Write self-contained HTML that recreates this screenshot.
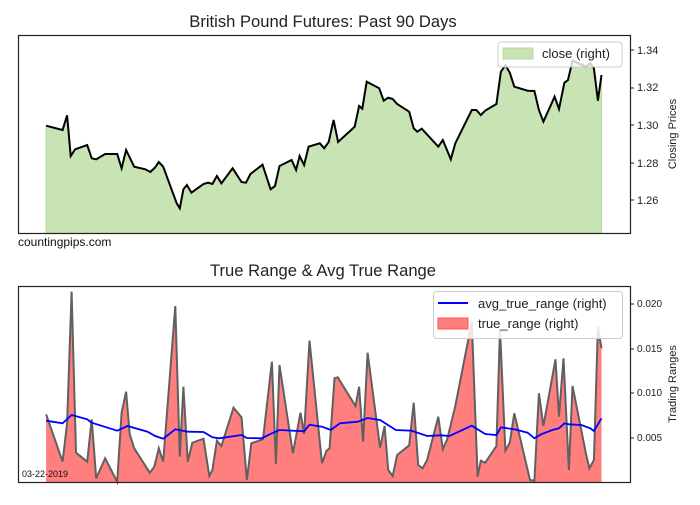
<!DOCTYPE html>
<html><head><meta charset="utf-8"><style>
body{margin:0;background:#fff;}
svg text{font-family:"Liberation Sans","DejaVu Sans",sans-serif;}
</style></head><body>
<svg id="s" width="700" height="500" xmlns="http://www.w3.org/2000/svg">
<rect width="700" height="500" fill="#fff"/>
<text x="323" y="27" font-size="16.6" text-anchor="middle" fill="#222">British Pound Futures: Past 90 Days</text>
<text x="323" y="276" font-size="16.6" text-anchor="middle" fill="#222">True Range &amp; Avg True Range</text>
<g id="top"></g>
<g id="bot"></g>
<rect x="18.5" y="35.5" width="612" height="198" fill="none" stroke="#222" stroke-width="1.2"/>
<rect x="18.5" y="286.5" width="612" height="196" fill="none" stroke="#222" stroke-width="1.2"/>
<g font-size="11" fill="#222">
<text x="637" y="54">1.34</text><text x="637" y="91">1.32</text><text x="637" y="129">1.30</text>
<text x="637" y="167">1.28</text><text x="637" y="204">1.26</text>
</g>
<g stroke="#222"><line x1="630" x2="634" y1="50" y2="50"/><line x1="630" x2="634" y1="88" y2="88"/><line x1="630" x2="634" y1="125" y2="125"/><line x1="630" x2="634" y1="163" y2="163"/><line x1="630" x2="634" y1="200" y2="200"/>
<line x1="630" x2="634" y1="304" y2="304"/><line x1="630" x2="634" y1="349" y2="349"/><line x1="630" x2="634" y1="393" y2="393"/><line x1="630" x2="634" y1="438" y2="438"/></g>
<g font-size="10" fill="#222">
<text x="637" y="307">0.020</text><text x="637" y="352">0.015</text><text x="637" y="396">0.010</text><text x="637" y="441">0.005</text>
</g>
<text transform="translate(676,134) rotate(-90)" font-size="11" text-anchor="middle" fill="#222">Closing Prices</text>
<text transform="translate(676,384) rotate(-90)" font-size="11" text-anchor="middle" fill="#222">Trading Ranges</text>
<text x="18" y="246" font-size="12" fill="#111">countingpips.com</text>
<text x="22" y="477" font-size="9" fill="#111">03-22-2019</text>
<rect x="498" y="42" width="124" height="25" rx="3" fill="#fff" fill-opacity="0.8" stroke="#ccc"/>
<rect x="503" y="48" width="30" height="11" fill="#c9e4b4" stroke="#b5d99c"/>
<text x="542" y="58" font-size="13" fill="#222">close (right)</text>
<rect x="433.5" y="291.5" width="189" height="47" rx="3" fill="#fff" fill-opacity="0.85" stroke="#ccc"/>
<line x1="438" x2="468" y1="303" y2="303" stroke="#0000ff" stroke-width="2"/>
<text x="478" y="308" font-size="13" fill="#222">avg_true_range (right)</text>
<rect x="438" y="318" width="30" height="11" fill="#ff7f7f" stroke="#ff5555"/>
<text x="478" y="328" font-size="13" fill="#222">true_range (right)</text>
</svg>
<script>
var k=2.236;
function conv(a,off){var r=[];for(var i=0;i<a.length;i+=2)r.push([(a[i]/k).toFixed(1),(off+a[i+1]/3).toFixed(1)]);return r;}
var close=[103,287,140,300,150,256,158,378,168,358,195,345,205,385,215,388,235,372,262,372,272,415,282,360,300,410,325,418,336,426,347,412,355,396,365,410,395,520,402,535,410,478,418,465,428,488,455,462,465,458,475,462,485,438,495,460,520,415,540,456,550,458,560,432,587,404,605,478,615,468,625,408,652,390,662,420,670,378,680,405,690,350,715,340,725,355,735,336,746,270,756,336,793,290,803,228,810,236,820,155,848,175,858,212,868,203,878,207,888,222,915,245,925,295,933,305,943,296,980,350,990,330,1008,388,1018,340,1055,240,1065,240,1075,255,1085,242,1110,222,1120,125,1130,106,1140,128,1150,170,1180,182,1195,183,1205,240,1215,275,1240,200,1250,237,1262,158,1270,150,1280,92,1310,110,1320,100,1328,115,1337,212,1345,135];
var tr=[103,403,140,545,150,430,160,35,170,518,195,545,205,418,215,595,235,535,262,605,272,398,282,335,290,462,300,505,335,578,345,560,355,505,365,545,392,78,402,530,410,320,420,545,430,488,455,476,468,588,475,570,485,482,495,498,522,383,540,412,552,600,562,490,588,478,608,245,617,552,625,255,655,520,672,398,680,462,692,182,720,550,730,512,737,505,748,295,755,292,795,378,803,320,812,485,822,218,850,503,860,438,868,570,878,588,888,525,915,496,925,368,935,555,945,565,955,540,980,410,990,508,1000,478,1018,378,1055,125,1068,590,1075,542,1085,548,1110,498,1118,148,1130,512,1140,488,1150,400,1185,600,1195,602,1205,340,1215,438,1242,238,1250,410,1260,235,1272,570,1280,318,1310,520,1318,565,1328,540,1337,140,1345,205];
var atr=[103,422,140,430,160,405,195,418,205,428,262,452,285,438,330,455,347,468,365,476,392,448,420,455,455,456,475,472,490,475,540,465,552,474,585,475,608,460,625,450,680,454,692,434,720,440,740,450,760,430,800,425,822,414,850,420,885,450,920,452,955,468,985,466,1005,468,1055,437,1085,462,1110,465,1120,442,1150,448,1180,458,1195,475,1210,463,1235,450,1250,445,1262,430,1272,433,1300,435,1320,445,1328,453,1345,415];
function pts(p){return p.map(function(q){return q.join(',')}).join(' ');}
var c=conv(close,30),t=conv(tr,280),a=conv(atr,280);
var ns='http://www.w3.org/2000/svg';
function add(g,tag,at){var e=document.createElementNS(ns,tag);for(var x in at)e.setAttribute(x,at[x]);document.getElementById(g).appendChild(e);}
add('top','polygon',{points:c[0][0]+',233 '+pts(c)+' '+c[c.length-1][0]+',233',fill:'#c9e4b4',stroke:'#b5d99c'});
add('top','polyline',{points:pts(c),fill:'none',stroke:'#000','stroke-width':2});
add('bot','polygon',{points:t[0][0]+',482 '+pts(t)+' '+t[t.length-1][0]+',482',fill:'#ff7f7f'});
add('bot','polyline',{points:pts(t),fill:'none',stroke:'#606060','stroke-width':2});
add('bot','polyline',{points:pts(a),fill:'none',stroke:'#0000ff','stroke-width':1.8});
</script>
</body></html>
